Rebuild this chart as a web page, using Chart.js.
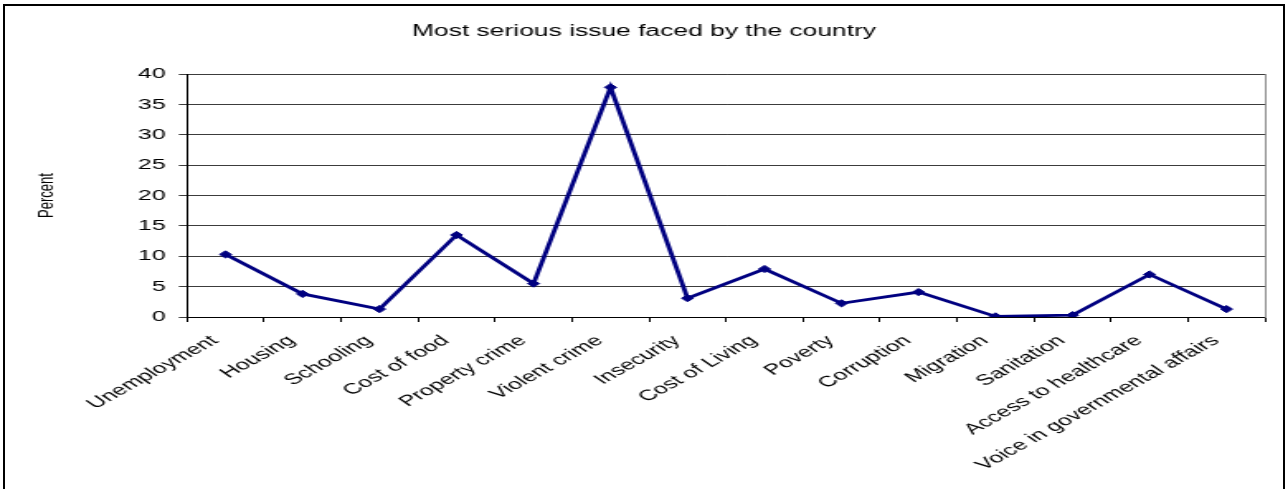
<!DOCTYPE html>
<html>
<head>
<meta charset="utf-8">
<script src="https://cdn.jsdelivr.net/npm/chart.js@4"></script>
<style>
  html,body{margin:0;padding:0;background:#fff;overflow:hidden;}
  #wrap{position:relative;width:1288px;height:489px;}
  /* chart is drawn narrow and stretched across the page width */
  #chart{position:absolute;left:0;top:0;width:1288px;height:489px;}
  #frame{position:absolute;left:3px;top:4px;width:1278px;height:600px;border:2px solid #000;pointer-events:none;}
</style>
</head>
<body>
<div id="wrap">
  <canvas id="chart" width="780" height="489" style="width:1288px;height:489px"></canvas>
  <div id="frame"></div>
</div>
<script>
const categories = ["Unemployment","Housing","Schooling","Cost of food","Property crime","Violent crime","Insecurity","Cost of Living","Poverty","Corruption","Migration","Sanitation","Access to healthcare","Voice in governmental affairs"];
const percents = [10.3, 3.8, 1.3, 13.5, 5.5, 37.8, 3.1, 7.9, 2.25, 4.1, 0.1, 0.3, 7.0, 1.3];
const yTicks = [0, 5, 10, 15, 20, 25, 30, 35, 40];

const NAVY = "#000080";
const FONT = "'Liberation Sans', Arial, sans-serif";

new Chart(document.getElementById("chart"), {
  type: "line",
  data: {
    labels: categories,
    datasets: [{
      data: percents,
      borderColor: NAVY,
      backgroundColor: NAVY,
      borderWidth: 2.8,
      tension: 0,
      pointStyle: "rectRot",
      pointRadius: 3.6,
      pointBorderWidth: 1,
      pointBackgroundColor: NAVY,
      pointBorderColor: NAVY
    }]
  },
  options: {
    responsive: false,
    animation: false,
    events: [],
    layout: { padding: { left: 0, right: 0, top: 10, bottom: 0 } },
    plugins: {
      legend: { display: false },
      tooltip: { enabled: false },
      title: {
        display: true,
        text: "Most serious issue faced by the country",
        color: "#000",
        font: { family: FONT, size: 16, weight: "normal" },
        padding: { top: 12, bottom: 32.8 }
      }
    },
    scales: {
      x: {
        offset: true,
        grid: { offset: true, drawOnChartArea: false, drawTicks: true, tickLength: 5, color: "#000", lineWidth: 1 },
        border: { display: true, color: "#000", width: 1 },
        ticks: {
          autoSkip: false, minRotation: 42, maxRotation: 42, padding: 10, labelOffset: -6.5,
          color: "#000", font: { family: FONT, size: 15 }
        },
        afterFit: s => { s.height = 172; }
      },
      y: {
        min: 0, max: 40,
        afterBuildTicks: s => { s.ticks = yTicks.map(v => ({ value: v })); },
        grid: { color: "#3c3c3c", lineWidth: 1, tickLength: 5 },
        border: { display: true, color: "#000", width: 1 },
        ticks: { padding: 8, color: "#000", font: { family: FONT, size: 15 } },
        title: {
          display: true, text: "Percent", color: "#000",
          font: { family: FONT, size: 13 },
          padding: { top: 20.7, bottom: 0 }
        },
        afterFit: s => { s.width = 113.25; }
      },
      // right edge of the plot frame; also holds the right margin
      y2: {
        position: "right",
        min: 0, max: 40,
        grid: { display: false },
        ticks: { display: false },
        border: { display: true, color: "#8c8c8c", width: 1 },
        afterFit: s => { s.width = 13.9; }
      }
    }
  }
});
</script>
</body>
</html>
